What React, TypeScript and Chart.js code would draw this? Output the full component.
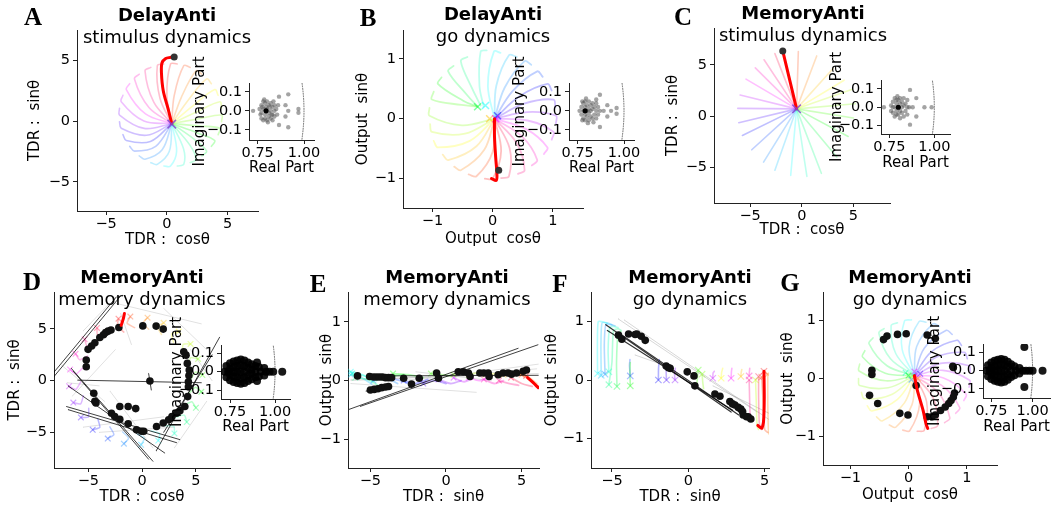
import React, { useEffect, useRef } from "react";
import { Chart, registerables } from "chart.js";

Chart.register(...registerables);

const PAGE_W = 1054;
const PAGE_H = 508;
const FONT = "'DejaVu Sans', 'Liberation Sans', sans-serif";

// ---------------- tick values ----------------
const TICKS_5 = [-5, 0, 5];
const TICKS_1 = [-1, 0, 1];
const EIG_X_TICKS = [0.75, 1.0];
const EIG_Y_TICKS = [-0.1, 0.0, 0.1];

// ---------------- Panel A: DelayAnti stimulus dynamics ----------------
const A_TRAJ = [
  [[0.4, -0.2], [0.0, 2.07], [0.3, 4.7], [0.85, 4.7]],
  [[0.4, -0.2], [0.6, 2.09], [1.39, 4.56], [1.92, 4.42]],
  [[0.4, -0.2], [1.19, 1.96], [2.4, 4.14], [2.88, 3.86]],
  [[0.4, -0.2], [1.72, 1.68], [3.27, 3.47], [3.66, 3.08]],
  [[0.4, -0.2], [2.16, 1.28], [3.94, 2.6], [4.22, 2.12]],
  [[0.4, -0.2], [2.48, 0.77], [4.36, 1.59], [4.5, 1.06]],
  [[0.4, -0.2], [2.67, 0.2], [4.5, 0.5], [4.5, -0.05]],
  [[0.4, -0.2], [2.69, -0.4], [4.36, -0.59], [4.22, -1.12]],
  [[0.4, -0.2], [2.56, -0.99], [3.94, -1.6], [3.66, -2.08]],
  [[0.4, -0.2], [2.28, -1.52], [3.27, -2.47], [2.88, -2.86]],
  [[0.4, -0.2], [1.88, -1.96], [2.4, -3.14], [1.92, -3.42]],
  [[0.4, -0.2], [1.37, -2.28], [1.39, -3.56], [0.86, -3.7]],
  [[0.4, -0.2], [0.8, -2.47], [0.3, -3.7], [-0.25, -3.7]],
  [[0.4, -0.2], [0.2, -2.49], [-0.79, -3.56], [-1.32, -3.42]],
  [[0.4, -0.2], [-0.39, -2.36], [-1.8, -3.14], [-2.28, -2.86]],
  [[0.4, -0.2], [-0.92, -2.08], [-2.67, -2.47], [-3.06, -2.08]],
  [[0.4, -0.2], [-1.36, -1.68], [-3.34, -1.6], [-3.62, -1.12]],
  [[0.4, -0.2], [-1.68, -1.17], [-3.76, -0.59], [-3.9, -0.06]],
  [[0.4, -0.2], [-1.87, -0.6], [-3.9, 0.5], [-3.9, 1.05]],
  [[0.4, -0.2], [-1.89, 0.0], [-3.76, 1.59], [-3.62, 2.12]],
  [[0.4, -0.2], [-1.76, 0.59], [-3.34, 2.6], [-3.06, 3.08]],
  [[0.4, -0.2], [-1.48, 1.12], [-2.67, 3.47], [-2.28, 3.86]],
  [[0.4, -0.2], [-1.08, 1.56], [-1.8, 4.14], [-1.32, 4.42]],
  [[0.4, -0.2], [-0.57, 1.88], [-0.79, 4.56], [-0.26, 4.7]],
];
const A_RED = [[0.4, -0.2], [0.1, 1.0], [-0.3, 2.5], [-0.45, 4.0], [-0.4, 4.8], [-0.1, 5.15], [0.3, 5.25]];
const A_DOT = [[0.6, 5.28]];
const A_CENTER = [[0.4, -0.25]];

// ---------------- Panel B: DelayAnti go dynamics ----------------
const B_TRAJ = [
  [[0.03, 0], [0.14, -0.54], [0, -1.0], [-0.13, -1.0]],
  [[0.03, 0], [0.0, -0.55], [-0.27, -0.96], [-0.4, -0.93]],
  [[0.03, 0], [-0.14, -0.52], [-0.53, -0.86], [-0.64, -0.8]],
  [[0.03, 0], [-0.27, -0.46], [-0.74, -0.69], [-0.83, -0.6]],
  [[0.03, 0], [-0.38, -0.37], [-0.91, -0.48], [-0.98, -0.37]],
  [[0.03, 0], [-0.46, -0.25], [-1.01, -0.22], [-1.04, -0.09]],
  [[0.03, 0], [-0.51, -0.11], [-1.05, 0.05], [-1.05, 0.18]],
  [[-0.25, 0.2], [-0.52, 0.23], [-1.01, 0.32], [-0.98, 0.45]],
  [[-0.25, 0.2], [-0.49, 0.3], [-0.91, 0.58], [-0.85, 0.69]],
  [[-0.25, 0.2], [-0.43, 0.4], [-0.74, 0.79], [-0.65, 0.88]],
  [[-0.2, 0.22], [-0.34, 0.5], [-0.53, 0.96], [-0.42, 1.03]],
  [[-0.15, 0.2], [-0.22, 0.55], [-0.2, 1.12], [-0.1, 1.14]],
  [[0.03, 0], [-0.08, 0.54], [0.02, 1.12], [0.13, 1.1]],
  [[0.03, 0], [0.06, 0.55], [0.27, 1.06], [0.4, 1.03]],
  [[0.03, 0], [0.2, 0.52], [0.53, 0.96], [0.64, 0.9]],
  [[0.03, 0], [0.33, 0.46], [0.74, 0.79], [0.83, 0.7]],
  [[0.03, 0], [0.44, 0.37], [0.91, 0.58], [0.98, 0.47]],
  [[0.03, 0], [0.52, 0.25], [1.01, 0.32], [1.04, 0.19]],
  [[0.03, 0], [0.57, 0.11], [1.05, 0.05], [1.05, -0.08]],
  [[0.03, 0], [0.58, -0.03], [1.01, -0.22], [0.98, -0.35]],
  [[0.03, 0], [0.55, -0.17], [0.91, -0.48], [0.85, -0.59]],
  [[0.03, 0], [0.49, -0.3], [0.74, -0.69], [0.65, -0.78]],
  [[0.03, 0], [0.4, -0.41], [0.53, -0.86], [0.42, -0.92]],
  [[0.03, 0], [0.28, -0.49], [0.27, -0.96], [0.14, -0.99]],
];
const B_RED = [[0.03, 0.0], [0.03, -0.3], [0.05, -0.65], [0.07, -0.92], [0.06, -1.03], [-0.02, -1.0]];
const B_DOT = [[0.1, -0.86]];
const B_CENTERS = [[0.05, 0.0], [-0.05, 0.0], [-0.25, 0.2], [-0.12, 0.22], [0.08, 0.05]];
const B_CENTER_K = [20, 3, 9, 12, 16];

// ---------------- Panel C: MemoryAnti stimulus dynamics ----------------
const C_CENTER = [-0.5, 0.7];
const C_TIPS = [
  [-1.8, 6.2], [-0.33, 6.3], [1.45, 5.87], [3.06, 4.66], [4.1, 3.5], [4.84, 2.6],
  [5.2, 1.2], [5.0, -0.2], [4.5, -2.0], [3.4, -4.0], [1.9, -5.6], [0.5, -5.9],
  [-1.07, -5.8], [-2.6, -5.3], [-3.7, -4.5], [-4.84, -3.3], [-5.75, -1.9], [-6.1, -0.65],
  [-6.2, 0.75], [-5.97, 2.05], [-5.4, 3.6], [-4.5, 4.7], [-3.65, 5.5], [-2.6, 6.1],
];
const C_RED = [[-0.5, 0.7], [-1.8, 6.2]];
const C_DOT = [[-1.84, 6.35]];

// ---------------- Panel D: MemoryAnti memory dynamics ----------------
const D_TRAJ = [
  [[-2.2, 6.0], [-2.3, 5.3], [-1.7, 4.7]],
  [[-1.1, 6.2], [-1.4, 5.57], [-0.7, 5.13]],
  [[0.5, 6.1], [0.06, 5.57], [0.61, 4.97]],
  [[2.0, 5.6], [1.43, 5.21], [1.8, 4.47]],
  [[3.4, 4.75], [2.74, 4.52], [2.92, 3.72]],
  [[4.5, 3.56], [3.81, 3.51], [3.77, 2.68]],
  [[5.2, 2.1], [4.52, 2.22], [4.27, 1.44]],
  [[5.6, 0.54], [4.97, 0.84], [4.53, 0.14]],
  [[5.5, -1.08], [4.97, -0.64], [4.37, -1.19]],
  [[5.0, -2.62], [4.61, -2.05], [3.87, -2.42]],
  [[4.15, -4.0], [3.92, -3.34], [3.12, -3.52]],
  [[3.0, -5.1], [2.95, -4.41], [2.12, -4.37]],
  [[1.5, -5.8], [1.62, -5.12], [0.84, -4.87]],
  [[-0.1, -6.2], [0.2, -5.57], [-0.5, -5.13]],
  [[-1.7, -6.1], [-1.26, -5.57], [-1.81, -4.97]],
  [[-3.2, -5.6], [-2.63, -5.21], [-3.0, -4.47]],
  [[-4.6, -4.75], [-3.94, -4.52], [-4.12, -3.72]],
  [[-5.7, -3.56], [-5.01, -3.51], [-4.97, -2.68]],
  [[-6.4, -2.12], [-5.72, -2.24], [-5.47, -1.46]],
  [[-6.8, -0.54], [-6.17, -0.84], [-5.73, -0.14]],
  [[-6.7, 1.08], [-6.17, 0.64], [-5.57, 1.19]],
  [[-6.2, 2.6], [-5.81, 2.03], [-5.07, 2.4]],
  [[-5.35, 4.0], [-5.12, 3.34], [-4.32, 3.52]],
  [[-4.2, 5.1], [-4.15, 4.41], [-3.32, 4.37]],
];
const D_RED = [[-1.95, 5.35], [-1.75, 6.0], [-1.65, 6.5]];
const D_DOTS = [
  [-2.17, 5.15], [-2.9, 4.9], [-3.17, 4.79], [-3.4, 4.65], [-3.6, 4.45], [-3.94, 4.18], [-4.4, 3.67],
  [-4.7, 3.35], [-5.03, 3.03], [-5.2, 2.0], [-5.2, 1.35], [-4.5, -1.22], [-4.4, -2.0], [-4.3, -2.15],
  [-2.85, -3.15], [-2.55, -3.47], [-2.08, -3.73], [-1.3, -4.18], [-0.52, -4.75], [-0.06, -4.9],
  [0.15, -4.9], [1.34, -4.43], [1.96, -4.1], [2.46, -3.79], [2.77, -3.47], [3.2, -3.15], [3.51, -2.9],
  [3.97, -2.5], [4.23, -1.54], [4.3, -0.6], [4.3, -0.1], [4.35, 0.5], [4.38, 1.03], [4.2, 1.67],
  [4.08, 2.47], [3.87, 2.8], [1.96, 4.99], [1.3, 5.28], [0.06, 5.3], [-2.08, -2.5], [-1.3, -2.5],
  [-0.6, -2.7], [0.72, -0.03],
];
const D_BLACK = [
  [[-8.3, 0.7], [-2.4, 8.1]],
  [[-8.2, 0.4], [-2.0, 8.2]],
  [[-6.0, 0.05], [5.5, -0.2]],
  [[-6.6, 1.2], [1.0, -7.8]],
  [[-6.4, 0.9], [0.6, -7.6]],
  [[-6.9, -0.5], [2.1, -7.0]],
  [[-7.05, -2.5], [3.5, -5.7]],
  [[-6.9, -2.8], [3.2, -6.0]],
  [[1.3, -6.8], [7.2, 4.2]],
  [[2.0, -5.0], [6.5, 2.5]],
  [[0.6, 0.7], [0.85, -0.9]],
];
const D_GRAY = [
  [[-5.5, 4.8], [-3.0, 7.5]],
  [[-2.5, 7.5], [5.5, 5.5]],
  [[2.0, 7.0], [6.0, 3.0]],
  [[-6.5, -1.5], [-2.5, 3.0]],
  [[-3.0, -1.0], [1.0, -6.5]],
  [[-4.0, -5.0], [3.0, -4.5]],
  [[-5.5, -4.5], [2.0, -3.5]],
  [[-7.5, 1.5], [-3.5, -2.0]],
  [[-2.0, 6.5], [-1.0, 3.5]],
  [[3.0, -6.5], [6.0, -2.0]],
  [[-7.0, -0.2], [-4.0, -0.5]],
  [[4.5, 3.0], [6.5, 0.0]],
];

// ---------------- Panel E: MemoryAnti memory dynamics (output) ----------------
const E_TRAJ = [
  [[5.3, 0.08], [5.7, -0.02], [6.1, -0.12]],
  [[5.0, 0.1], [5.6, 0.0], [6.1, -0.1]],
  [[4.8, 0.12], [5.5, 0.05], [6.0, -0.05]],
  [[3.8, 0.1], [4.5, 0.12], [5.2, 0.1]],
  [[2.6, 0.1], [3.3, 0.12], [4.0, 0.1]],
  [[1.5, 0.1], [2.1, 0.13], [2.8, 0.1]],
  [[0.5, 0.1], [1.0, 0.13], [1.6, 0.12]],
  [[-1.0, 0.12], [-0.3, 0.1], [0.4, 0.08]],
  [[-3.5, 0.12], [-2.5, 0.1], [-1.5, 0.05]],
  [[-4.4, 0.05], [-3.6, 0.08], [-2.8, 0.1]],
  [[-6.0, 0.05], [-5.2, 0.02], [-4.5, -0.08]],
  [[-6.2, 0.12], [-5.4, 0.08], [-4.6, 0.0]],
  [[-6.3, 0.15], [-5.5, 0.1], [-4.8, -0.02]],
  [[-6.3, 0.1], [-5.6, 0.05], [-4.9, -0.06]],
  [[-4.8, 0.0], [-4.0, 0.05], [-3.2, -0.05]],
  [[-3.8, 0.05], [-3.0, 0.0], [-2.2, -0.08]],
  [[-2.8, 0.0], [-2.0, -0.05], [-1.2, 0.02]],
  [[-1.5, -0.05], [-0.8, 0.0], [0.0, -0.05]],
  [[-0.5, 0.02], [0.3, -0.05], [1.0, 0.0]],
  [[0.5, 0.05], [1.2, -0.02], [1.8, 0.05]],
  [[1.5, 0.05], [2.2, 0.0], [2.8, 0.05]],
  [[2.5, 0.02], [3.2, -0.05], [3.8, 0.0]],
  [[3.5, 0.0], [4.2, -0.05], [4.8, -0.08]],
  [[4.3, 0.05], [5.0, -0.05], [5.7, -0.1]],
];
const E_RED = [[5.4, 0.05], [5.75, -0.03], [6.1, -0.12]];
const E_DOTS = [
  [-5.85, 0.08], [-5.05, 0.07], [-4.8, 0.06], [-4.6, 0.06], [-4.4, 0.06], [-4.2, 0.06], [-4.0, 0.05],
  [-3.8, 0.05], [-3.6, 0.05], [-5.0, -0.16], [-4.75, -0.15], [-4.5, -0.14], [-4.25, -0.12], [-4.0, -0.11],
  [-3.8, -0.1], [-2.8, 0.04], [-2.28, -0.06], [-1.77, 0.04], [-0.62, 0.13], [-0.5, 0.04], [0.81, 0.15],
  [1.15, 0.15], [1.48, 0.13], [1.59, 0.07], [2.24, 0.13], [2.5, 0.13], [2.79, 0.13], [2.85, 0.07],
  [3.45, 0.1], [3.78, 0.13], [4.1, 0.13], [4.33, 0.11], [4.66, 0.13], [5.1, 0.16], [5.32, 0.18],
];
const E_BLACK = [
  [[-6.4, -0.49], [4.77, 0.55]],
  [[-5.67, -0.44], [6.08, 0.61]],
  [[-4.6, 0.08], [6.1, 0.09]],
  [[-5.3, -0.18], [-3.6, -0.08]],
];
const E_GRAY = [
  [[-6.3, 0.02], [6.1, 0.12]],
  [[-6.3, -0.05], [2.0, -0.2]],
  [[-3.0, 0.0], [6.0, 0.2]],
  [[-2.0, 0.15], [3.0, 0.0]],
  [[1.5, 0.12], [6.1, 0.28]],
  [[-6.3, 0.0], [-1.0, 0.06]],
];

// ---------------- Panel F: MemoryAnti go dynamics (TDR vs output) ----------------
const F_TRAJ = [
  [[4.95, 0.15], [4.97, -0.3], [4.92, -0.72], [4.78, -0.82]],
  [[4.8, 0.05], [4.9, -0.4], [5.0, -0.85], [5.2, -0.9]],
  [[5.2, 0.1], [5.2, -0.4], [5.25, -0.9], [5.3, -0.93]],
  [[3.44, 0.06], [3.46, 0.13], [3.5, 0.18]],
  [[2.15, 0.03], [2.18, 0.13], [2.25, 0.2]],
  [[4.4, 0.0], [4.45, -0.4], [4.5, -0.8], [4.6, -0.85]],
  [[0.9, 0.1], [0.95, -0.05], [1.0, -0.15]],
  [[0.65, 0.17], [0.6, 0.05], [0.55, -0.1]],
  [[-3.8, -0.1], [-3.82, 0.15], [-3.8, 0.3]],
  [[-4.67, -0.11], [-4.7, 0.3], [-4.6, 0.8], [-4.4, 0.83]],
  [[-5.2, -0.08], [-5.0, 0.3], [-4.9, 0.85], [-4.6, 0.88], [-4.4, 0.85]],
  [[-5.2, 0.14], [-5.25, 0.5], [-5.15, 0.9], [-4.9, 0.92], [-4.6, 0.9]],
  [[-5.94, 0.11], [-5.95, 0.6], [-5.9, 1.0], [-5.6, 1.0], [-5.3, 0.97]],
  [[-5.7, 0.08], [-5.72, 0.6], [-5.65, 0.98], [-5.3, 0.98], [-5.0, 0.95]],
  [[-5.45, 0.1], [-5.5, 0.6], [-5.4, 0.95], [-5.1, 0.95], [-4.8, 0.93]],
  [[-3.8, 0.07], [-3.85, 0.25], [-3.82, 0.35]],
  [[-1.96, 0.0], [-1.95, 0.2], [-1.9, 0.35]],
  [[-1.43, 0.0], [-1.45, 0.15], [-1.4, 0.25]],
  [[-0.87, 0.0], [-0.9, 0.1], [-0.85, 0.2]],
  [[1.6, 0.03], [1.62, 0.12], [1.7, 0.15]],
  [[2.8, 0.03], [2.82, 0.14], [2.85, 0.2]],
  [[3.98, 0.07], [4.0, 0.15], [4.02, 0.2]],
  [[3.98, 0.0], [4.0, -0.2], [4.05, -0.6], [4.2, -0.7]],
  [[4.6, 0.06], [4.6, -0.3], [4.65, -0.75], [4.8, -0.85]],
];
const F_RED = [[4.95, 0.15], [4.97, -0.3], [4.92, -0.72], [4.8, -0.83], [4.55, -0.78]];
const F_DOTS = [
  [-4.57, 0.77], [-4.35, 0.7], [-3.91, 0.79], [-3.48, 0.78], [-3.37, 0.79], [-3.08, 0.75], [-2.82, 0.68],
  [-1.45, 0.24], [-1.3, 0.21], [-1.19, 0.2], [-0.07, 0.14], [0.37, 0.07], [0.43, -0.1], [1.74, -0.24],
  [2.07, -0.28], [2.72, -0.37], [2.89, -0.41], [3.05, -0.43], [3.27, -0.47], [3.44, -0.5], [3.55, -0.54],
  [3.59, -0.6], [3.81, -0.63], [3.92, -0.63], [4.09, -0.67],
];
const F_BLACK = [
  [[-5.4, 0.95], [2.8, -0.55]],
  [[-5.3, 0.85], [2.9, -0.52]],
  [[-4.5, 0.8], [3.3, -0.6]],
];
const F_GRAY = [
  [[-4.2, 1.03], [5.4, -0.7]],
  [[-3.5, 0.43], [-1.0, 0.2]],
  [[1.6, -0.1], [5.5, -0.6]],
  [[-4.6, 1.05], [4.5, -0.55]],
];

// ---------------- Panel G: MemoryAnti go dynamics (output) ----------------
const G_TRAJ = [
  [[0.1, 0.05], [0.31, -0.4], [0.27, -0.89], [0.15, -0.91]],
  [[0.1, 0.05], [0.19, -0.44], [0.02, -0.9], [-0.1, -0.89]],
  [[0.1, 0.05], [0.06, -0.45], [-0.22, -0.84], [-0.33, -0.8]],
  [[0.1, 0.05], [-0.07, -0.42], [-0.45, -0.73], [-0.55, -0.66]],
  [[0.1, 0.05], [-0.19, -0.36], [-0.63, -0.56], [-0.71, -0.47]],
  [[0.1, 0.05], [-0.28, -0.27], [-0.76, -0.35], [-0.81, -0.24]],
  [[0.1, 0.05], [-0.35, -0.16], [-0.84, -0.12], [-0.86, 0.0]],
  [[0.1, 0.05], [-0.39, -0.04], [-0.85, 0.13], [-0.84, 0.25]],
  [[0.1, 0.05], [-0.4, 0.09], [-0.79, 0.37], [-0.75, 0.48]],
  [[0.1, 0.05], [-0.37, 0.22], [-0.68, 0.6], [-0.61, 0.7]],
  [[0.1, 0.05], [-0.31, 0.34], [-0.51, 0.78], [-0.42, 0.86]],
  [[0.1, 0.05], [-0.22, 0.43], [-0.3, 0.91], [-0.19, 0.96]],
  [[0.1, 0.05], [-0.11, 0.5], [-0.07, 0.99], [0.05, 1.01]],
  [[0.1, 0.05], [0.01, 0.54], [0.18, 0.98], [0.3, 0.97]],
  [[0.1, 0.05], [0.14, 0.55], [0.42, 0.94], [0.53, 0.9]],
  [[0.1, 0.05], [0.27, 0.52], [0.65, 0.83], [0.75, 0.76]],
  [[0.1, 0.05], [0.39, 0.46], [0.83, 0.66], [0.91, 0.57]],
  [[0.1, 0.05], [0.48, 0.37], [0.96, 0.45], [1.01, 0.34]],
  [[0.1, 0.05], [0.55, 0.26], [1.04, 0.22], [1.06, 0.1]],
  [[0.1, 0.05], [0.59, 0.14], [1.05, -0.03], [1.04, -0.15]],
  [[0.1, 0.05], [0.6, 0.01], [0.99, -0.27], [0.95, -0.38]],
  [[0.1, 0.05], [0.57, -0.12], [0.88, -0.5], [0.81, -0.6]],
  [[0.1, 0.05], [0.51, -0.24], [0.71, -0.68], [0.62, -0.76]],
  [[0.1, 0.05], [0.42, -0.33], [0.5, -0.81], [0.39, -0.86]],
];
const G_RED = [[0.1, 0.05], [0.15, -0.2], [0.25, -0.55], [0.3, -0.78], [0.33, -0.86]];
const G_DOTS = [
  [-0.37, 0.73], [-0.43, 0.67], [-0.19, 0.76], [-0.04, 0.77], [0.32, 0.75], [0.46, 0.69], [-0.63, 0.14],
  [-0.63, 0.07], [-0.67, -0.29], [-0.53, -0.43], [-0.15, -0.6], [-0.01, -0.63], [0.13, -0.12], [0.76, 0.21],
  [0.77, 0.19], [0.79, -0.25], [0.32, -0.66], [0.4, -0.66], [0.46, -0.63], [0.55, -0.55], [0.63, -0.49],
  [0.69, -0.43], [0.73, -0.38], [0.77, -0.32],
];
const G_CENTERS = [[0.0, 0.05], [0.1, 0.12], [0.16, 0.0], [0.05, -0.02], [0.2, 0.08], [-0.05, 0.1]];
const G_CENTER_K = [8, 20, 2, 14, 17, 11];

// ---------------- Eigenvalue insets ----------------
const UNIT_ARC = [[0.989, -0.15], [0.995, -0.1], [0.9987, -0.05], [1.0, 0.0], [0.9987, 0.05], [0.995, 0.1], [0.989, 0.15]];
const INS_A_EIG = [
  [0.77, 0.03], [0.78, 0.05], [0.79, 0.04], [0.8, 0.05], [0.81, 0.03], [0.82, 0.04], [0.83, 0.02], [0.84, 0.03],
  [0.76, 0.01], [0.77, -0.01], [0.78, 0.01], [0.79, -0.02], [0.8, 0.01], [0.81, -0.01], [0.82, 0.0], [0.83, -0.02],
  [0.84, 0.0], [0.85, 0.01], [0.77, -0.04], [0.78, -0.05], [0.79, -0.04], [0.8, -0.05], [0.81, -0.03], [0.82, -0.04],
  [0.83, -0.05], [0.84, -0.03], [0.785, 0.06], [0.805, -0.06], [0.795, 0.02], [0.775, 0.02], [0.815, 0.02],
  [0.825, -0.02], [0.765, -0.02], [0.835, 0.05], [0.855, -0.02], [0.86, 0.03], [0.865, 0.075], [0.865, -0.075],
  [0.915, 0.087], [0.915, -0.087], [0.9, 0.03], [0.9, -0.03], [0.915, 0.0], [0.97, 0.01], [0.97, -0.01], [0.725, 0.0],
];
const INS_A_LEAD = [[0.795, 0.0]];
const INS_B_EIG = [
  [0.76, 0.0], [0.77, 0.02], [0.77, -0.02], [0.78, 0.04], [0.78, 0.0], [0.78, -0.04], [0.79, 0.02], [0.79, -0.02],
  [0.79, 0.05], [0.79, -0.05], [0.8, 0.03], [0.8, 0.0], [0.8, -0.03], [0.81, 0.05], [0.81, 0.01], [0.81, -0.01],
  [0.81, -0.05], [0.82, 0.03], [0.82, -0.03], [0.82, 0.0], [0.83, 0.04], [0.83, -0.04], [0.83, 0.01], [0.84, 0.02],
  [0.84, -0.02], [0.85, 0.0], [0.85, 0.04], [0.85, -0.04], [0.86, 0.02], [0.86, -0.02], [0.87, 0.0], [0.775, 0.05],
  [0.795, 0.065], [0.805, -0.065], [0.775, -0.05], [0.87, 0.085], [0.87, -0.085], [0.91, 0.03], [0.91, -0.03],
  [0.93, 0.0], [0.96, 0.015], [0.96, -0.015], [0.89, 0.0], [0.85, 0.06], [0.835, -0.06],
];
const INS_B_LEAD = [[0.79, 0.0]];
const INS_C_EIG = [
  [0.72, 0.0], [0.76, 0.01], [0.76, -0.02], [0.77, 0.03], [0.77, -0.03], [0.78, 0.0], [0.78, 0.05], [0.78, -0.05],
  [0.79, 0.02], [0.79, -0.02], [0.795, 0.06], [0.8, 0.0], [0.8, 0.04], [0.8, -0.04], [0.81, 0.02], [0.81, -0.02],
  [0.81, 0.05], [0.81, -0.06], [0.82, 0.0], [0.82, 0.03], [0.82, -0.03], [0.83, 0.05], [0.83, -0.05], [0.83, 0.01],
  [0.84, 0.02], [0.84, -0.02], [0.85, 0.0], [0.85, 0.04], [0.85, -0.04], [0.86, 0.0], [0.865, 0.095],
  [0.865, -0.095], [0.9, 0.05], [0.9, -0.05], [0.945, 0.0], [0.985, 0.0], [0.88, 0.0], [0.77, 0.0], [0.79, 0.04],
  [0.79, -0.04],
];
const INS_C_LEAD = [[0.8, 0.0]];
const INS_D_EIG = [
  [0.72, 0.0], [0.73, 0.03], [0.73, -0.03], [0.74, 0.0], [0.75, 0.045], [0.75, -0.045], [0.75, 0.015], [0.75, -0.015],
  [0.77, 0.055], [0.77, -0.055], [0.77, 0.025], [0.77, -0.025], [0.77, 0.0], [0.79, 0.06], [0.79, -0.06], [0.79, 0.03],
  [0.79, -0.03], [0.79, 0.0], [0.81, 0.065], [0.81, -0.065], [0.81, 0.035], [0.81, -0.035], [0.81, 0.0], [0.83, 0.06],
  [0.83, -0.06], [0.83, 0.03], [0.83, -0.03], [0.83, 0.0], [0.85, 0.05], [0.85, -0.05], [0.85, 0.02], [0.85, -0.02],
  [0.87, 0.04], [0.87, -0.04], [0.87, 0.01], [0.87, -0.01], [0.89, 0.03], [0.89, -0.03], [0.89, 0.0], [0.91, 0.025],
  [0.91, -0.025], [0.92, 0.0], [0.94, 0.02], [0.94, -0.02], [0.95, 0.0], [0.97, 0.0], [0.99, 0.0], [1.04, 0.0],
  [0.9, 0.05], [0.9, -0.05],
];
const INS_G_EIG = [
  [0.72, 0.0], [0.73, 0.03], [0.73, -0.03], [0.74, 0.0], [0.75, 0.045], [0.75, -0.045], [0.75, 0.015], [0.75, -0.015],
  [0.77, 0.055], [0.77, -0.055], [0.77, 0.025], [0.77, -0.025], [0.77, 0.0], [0.79, 0.06], [0.79, -0.06], [0.79, 0.03],
  [0.79, -0.03], [0.79, 0.0], [0.81, 0.065], [0.81, -0.065], [0.81, 0.035], [0.81, -0.035], [0.81, 0.0], [0.83, 0.06],
  [0.83, -0.06], [0.83, 0.03], [0.83, -0.03], [0.83, 0.0], [0.85, 0.05], [0.85, -0.05], [0.85, 0.02], [0.85, -0.02],
  [0.87, 0.035], [0.87, -0.035], [0.87, 0.0], [0.89, 0.025], [0.89, -0.025], [0.9, 0.0], [0.92, 0.015], [0.92, -0.015],
  [0.94, 0.0], [0.96, 0.0], [0.98, 0.0], [1.0, 0.0], [0.95, 0.13], [0.95, -0.09], [1.06, 0.0],
];

// ---------------- helpers ----------------
const rainbow = (k, a = 0.25) => `hsla(${(k * 15) % 360},100%,50%,${a})`;
const toXY = (pts) => pts.map(([x, y]) => ({ x, y }));
const fmtInt = (v) => (v < 0 ? "\u2212" + Math.abs(v) : String(v));
const fmt2 = (v) => v.toFixed(2);
const fmt1 = (v) => (v < -1e-9 ? "\u2212" + Math.abs(v).toFixed(1) : Math.abs(v).toFixed(1));

function lineDS(pts, color, width, order, tension = 0.35, dash = undefined) {
  return {
    data: toXY(pts), showLine: true, borderColor: color, backgroundColor: color,
    borderWidth: width, pointRadius: 0, pointHoverRadius: 0, tension, order, fill: false,
    borderDash: dash, borderCapStyle: "round", borderJoinStyle: "round",
  };
}
function dotDS(pts, color, r, order) {
  return {
    data: toXY(pts), showLine: false, pointRadius: r, pointHoverRadius: r,
    pointBackgroundColor: color, pointBorderColor: color, pointBorderWidth: 0, order,
  };
}
function crossDS(pts, color, r, order, w = 1.5) {
  return {
    data: toXY(pts), showLine: false, pointStyle: "crossRot", pointRadius: r, pointHoverRadius: r,
    pointBorderColor: color, pointBackgroundColor: color, pointBorderWidth: w, order,
  };
}

const whiteArea = {
  id: "whiteArea",
  beforeDraw(chart) {
    const a = chart.chartArea;
    const ctx = chart.ctx;
    ctx.save();
    ctx.fillStyle = "#ffffff";
    ctx.fillRect(a.left, a.top, a.right - a.left, a.bottom - a.top);
    ctx.restore();
  },
};

function buildConfig(g, datasets, white) {
  const lh = g.fs * 1.2;
  const yW = Math.min(g.l, Math.round(g.dx + lh / 2 + 3));
  const yPad = Math.max(0, yW - g.dx - lh / 2);
  const xH = Math.round(g.dy + lh / 2 + 3);
  const xPad = Math.max(0, xH - g.dy - lh / 2);
  const tickFont = { family: FONT, size: g.tfs };
  const labelFont = { family: FONT, size: g.fs };
  const axis = (min, max, ticks, fmt, label, horiz) => ({
    type: "linear", min, max,
    afterBuildTicks: (s) => { s.ticks = ticks.map((v) => ({ value: v })); },
    afterFit: (s) => { if (horiz) s.height = xH; else s.width = yW; },
    ticks: { callback: (v) => fmt(v), font: tickFont, color: "#000", padding: horiz ? 1 : 3, autoSkip: false, maxRotation: 0, minRotation: 0 },
    grid: { display: true, drawOnChartArea: false, drawTicks: true, tickLength: 4, color: "#222", lineWidth: 1 },
    border: { display: true, color: "#222", width: 1 },
    title: { display: true, text: label, font: labelFont, color: "#000", padding: horiz ? { top: 0, bottom: xPad } : { top: yPad, bottom: 0 } },
  });
  return {
    type: "scatter",
    data: { datasets },
    plugins: white ? [whiteArea] : [],
    options: {
      responsive: false, animation: false, events: [],
      layout: { padding: { left: g.l - yW, top: g.t, right: PAGE_W - g.r, bottom: PAGE_H - g.b - xH } },
      plugins: { legend: { display: false }, tooltip: { enabled: false }, title: { display: false } },
      scales: {
        x: axis(g.xr[0], g.xr[1], g.xt, g.xf, g.xl, true),
        y: axis(g.yr[0], g.yr[1], g.yt, g.yf, g.yl, false),
      },
    },
  };
}

// ---------------- panel geometry ----------------
const MAIN = { fs: 15, tfs: 14.5, xf: fmtInt, yf: fmtInt };
const INSET = { fs: 15, tfs: 14.5, xf: fmt2, yf: fmt1, xt: EIG_X_TICKS, yt: EIG_Y_TICKS, xl: "Real Part", yl: "Imaginary Part" };

const GEO_A = { ...MAIN, l: 77, t: 30, r: 258, b: 211, xr: [-7.4, 7.5], yr: [-7.4, 7.5], xt: TICKS_5, yt: TICKS_5, xl: "TDR :  cos\u03b8", yl: "TDR :  sin\u03b8", dx: 42, dy: 29 };
const GEO_B = { ...MAIN, l: 403, t: 30, r: 583, b: 208, xr: [-1.49, 1.5], yr: [-1.49, 1.48], xt: TICKS_1, yt: TICKS_1, xl: "Output  cos\u03b8", yl: "Output  sin\u03b8", dx: 40, dy: 31 };
const GEO_C = { ...MAIN, l: 714, t: 28, r: 890, b: 203, xr: [-8.5, 8.55], yr: [-8.5, 8.6], xt: TICKS_5, yt: TICKS_5, xl: "TDR :  cos\u03b8", yl: "TDR :  sin\u03b8", dx: 41, dy: 27 };
const GEO_D = { ...MAIN, l: 54, t: 292, r: 230, b: 468, xr: [-8.2, 8.17], yr: [-8.45, 8.58], xt: TICKS_5, yt: TICKS_5, xl: "TDR :  cos\u03b8", yl: "TDR :  sin\u03b8", dx: 39, dy: 29 };
const GEO_E = { ...MAIN, l: 348, t: 292, r: 539, b: 468, xr: [-6.48, 6.15], yr: [-1.49, 1.51], xt: TICKS_5, yt: TICKS_1, xl: "TDR :  sin\u03b8", yl: "Output  sin\u03b8", dx: 21, dy: 29 };
const GEO_F = { ...MAIN, l: 591, t: 292, r: 769, b: 468, xr: [-6.37, 5.28], yr: [-1.51, 1.51], xt: TICKS_5, yt: TICKS_1, xl: "TDR :  sin\u03b8", yl: "Output  sin\u03b8", dx: 39, dy: 29 };
const GEO_G = { ...MAIN, l: 823, t: 292, r: 997, b: 465, xr: [-1.47, 1.52], yr: [-1.49, 1.49], xt: TICKS_1, yt: TICKS_1, xl: "Output  cos\u03b8", yl: "Output  sin\u03b8", dx: 35, dy: 30 };

const GEO_IA = { ...INSET, l: 249, t: 83, r: 314, b: 140, xr: [0.703, 1.054], yr: [-0.154, 0.147], dx: 49, dy: 28 };
const GEO_IB = { ...INSET, l: 569, t: 83, r: 634, b: 140, xr: [0.703, 1.054], yr: [-0.154, 0.147], dx: 49, dy: 28 };
const GEO_IC = { ...INSET, l: 881, t: 80, r: 950, b: 134, xr: [0.704, 1.087], yr: [-0.146, 0.149], dx: 44, dy: 29 };
const GEO_ID = { ...INSET, l: 221, t: 345, r: 290, b: 399, xr: [0.7, 1.083], yr: [-0.146, 0.143], dx: 44, dy: 28 };
const GEO_IG = { ...INSET, l: 983, t: 344, r: 1054, b: 398, xr: [0.7, 1.105], yr: [-0.15, 0.147], dx: 48, dy: 29 };

// ---------------- dataset assembly ----------------
function trajPanel(traj, red, dot, width = 1.6) {
  const ds = traj.map((p, k) => lineDS(p, rainbow(k), width, 10));
  ds.push(lineDS(red, "#ff0000", 3, 2, 0.3));
  if (dot) ds.push(dotDS(dot, "#333333", 3.5, 1));
  return ds;
}

const DS_A = [...trajPanel(A_TRAJ, A_RED, A_DOT), crossDS(A_CENTER, "rgba(130,70,210,0.85)", 6, 0)];
const DS_B = [
  ...trajPanel(B_TRAJ, B_RED, B_DOT, 1.8),
  ...B_CENTERS.map((p, i) => crossDS([p], rainbow(B_CENTER_K[i], 0.5), 5, 3)),
];
const DS_C = [
  ...C_TIPS.map((tip, k) => lineDS([C_CENTER, tip], rainbow(k), 1.6, 10, 0)),
  lineDS(C_RED, "#ff0000", 3, 2, 0),
  dotDS(C_DOT, "#333333", 3.5, 1),
  crossDS([C_CENTER], "rgba(130,70,210,0.85)", 6, 0),
];
const DS_D = [
  ...D_GRAY.map((p) => lineDS(p, "rgba(0,0,0,0.12)", 1, 11, 0)),
  ...D_TRAJ.map((p, k) => lineDS(p, rainbow(k, 0.28), 1.5, 10, 0.2)),
  ...D_TRAJ.map((p, k) => crossDS([p[0]], rainbow(k, 0.35), 4, 9, 1.2)),
  ...D_BLACK.map((p) => lineDS(p, "rgba(0,0,0,0.75)", 1, 4, 0)),
  dotDS(D_DOTS, "#111111", 3.8, 3),
  lineDS(D_RED, "#ff0000", 3, 2, 0.2),
];
const DS_E = [
  ...E_GRAY.map((p) => lineDS(p, "rgba(0,0,0,0.12)", 1, 11, 0)),
  ...E_TRAJ.map((p, k) => lineDS(p, rainbow(k, 0.3), 1.8, 10, 0.3)),
  ...E_TRAJ.map((p, k) => crossDS([p[0]], rainbow(k, 0.35), 4, 9, 1.2)),
  ...E_BLACK.map((p) => lineDS(p, "rgba(0,0,0,0.75)", 1, 4, 0)),
  dotDS(E_DOTS, "#111111", 3.8, 3),
  lineDS(E_RED, "#ff0000", 3, 2, 0.2),
];
const DS_F = [
  ...F_GRAY.map((p) => lineDS(p, "rgba(0,0,0,0.16)", 1, 11, 0)),
  ...F_TRAJ.map((p, k) => lineDS(p, rainbow(k, 0.3), 1.6, 10, 0.2)),
  ...F_TRAJ.map((p, k) => crossDS([p[0]], rainbow(k, 0.35), 4.5, 9, 1.2)),
  ...F_BLACK.map((p) => lineDS(p, "rgba(0,0,0,0.8)", 1.2, 4, 0)),
  dotDS(F_DOTS, "#111111", 3.8, 3),
  lineDS(F_RED, "#ff0000", 3, 2, 0.2),
];
const DS_G = [
  ...G_TRAJ.map((p, k) => lineDS(p, rainbow(k, 0.25), 1.6, 10)),
  ...G_CENTERS.map((p, i) => crossDS([p], rainbow(G_CENTER_K[i], 0.45), 4, 9, 1.2)),
  dotDS(G_DOTS, "#111111", 3.8, 3),
  lineDS(G_RED, "#ff0000", 3, 2, 0.2),
];

function insetDS(eig, lead, blob) {
  const ds = [lineDS(UNIT_ARC, "rgba(0,0,0,0.55)", 1, 5, 0.3, [1, 1.5])];
  if (blob) ds.push(dotDS(eig, "rgba(0,0,0,0.9)", 4, 3));
  else ds.push(dotDS(eig, "rgba(90,90,90,0.55)", 2.2, 3));
  if (lead) ds.push(dotDS(lead, "#000000", 2.6, 1));
  return ds;
}

const PANELS = [
  { g: GEO_A, ds: DS_A, white: false },
  { g: GEO_B, ds: DS_B, white: false },
  { g: GEO_C, ds: DS_C, white: false },
  { g: GEO_D, ds: DS_D, white: false },
  { g: GEO_E, ds: DS_E, white: false },
  { g: GEO_F, ds: DS_F, white: false },
  { g: GEO_G, ds: DS_G, white: false },
  { g: GEO_IA, ds: insetDS(INS_A_EIG, INS_A_LEAD, false), white: true },
  { g: GEO_IB, ds: insetDS(INS_B_EIG, INS_B_LEAD, false), white: true },
  { g: GEO_IC, ds: insetDS(INS_C_EIG, INS_C_LEAD, false), white: true },
  { g: GEO_ID, ds: insetDS(INS_D_EIG, null, true), white: true },
  { g: GEO_IG, ds: insetDS(INS_G_EIG, null, true), white: true },
];

const TITLES = [
  { cx: 167, y: 15, a: "DelayAnti", b: "stimulus dynamics" },
  { cx: 493, y: 14, a: "DelayAnti", b: "go dynamics" },
  { cx: 803, y: 13, a: "MemoryAnti", b: "stimulus dynamics" },
  { cx: 142, y: 277, a: "MemoryAnti", b: "memory dynamics" },
  { cx: 447, y: 277, a: "MemoryAnti", b: "memory dynamics" },
  { cx: 690, y: 277, a: "MemoryAnti", b: "go dynamics" },
  { cx: 910, y: 277, a: "MemoryAnti", b: "go dynamics" },
];
const LETTERS = [
  { t: "A", x: 33, y: 17 }, { t: "B", x: 368, y: 18 }, { t: "C", x: 683, y: 17 },
  { t: "D", x: 32, y: 282 }, { t: "E", x: 318, y: 284 }, { t: "F", x: 560, y: 284 }, { t: "G", x: 790, y: 283 },
];

function PanelCanvas({ cfg }) {
  const ref = useRef(null);
  useEffect(() => {
    const chart = new Chart(ref.current, cfg);
    return () => chart.destroy();
  }, []);
  return (
    <canvas
      ref={ref}
      width={PAGE_W}
      height={PAGE_H}
      style={{ position: "absolute", left: 0, top: 0, width: PAGE_W, height: PAGE_H }}
    />
  );
}

export default function App() {
  Chart.defaults.font.family = FONT;
  return (
    <div style={{ position: "absolute", left: 0, top: 0, width: PAGE_W, height: PAGE_H, background: "#fff", overflow: "hidden" }}>
      {PANELS.map((p, i) => (
        <PanelCanvas key={i} cfg={buildConfig(p.g, p.ds, p.white)} />
      ))}
      {TITLES.map((t, i) => (
        <div
          key={"t" + i}
          style={{
            position: "absolute", left: t.cx, top: t.y - 11, transform: "translateX(-50%)",
            textAlign: "center", fontFamily: FONT, fontSize: 18, lineHeight: "22px", whiteSpace: "nowrap", color: "#000",
          }}
        >
          <div style={{ fontWeight: "bold" }}>{t.a}</div>
          <div>{t.b}</div>
        </div>
      ))}
      {LETTERS.map((l, i) => (
        <div
          key={"l" + i}
          style={{
            position: "absolute", left: l.x, top: l.y - 13, transform: "translateX(-50%)",
            fontFamily: "'Liberation Serif', 'DejaVu Serif', serif", fontWeight: "bold", fontSize: 25, lineHeight: "26px", color: "#000",
          }}
        >
          {l.t}
        </div>
      ))}
    </div>
  );
}
